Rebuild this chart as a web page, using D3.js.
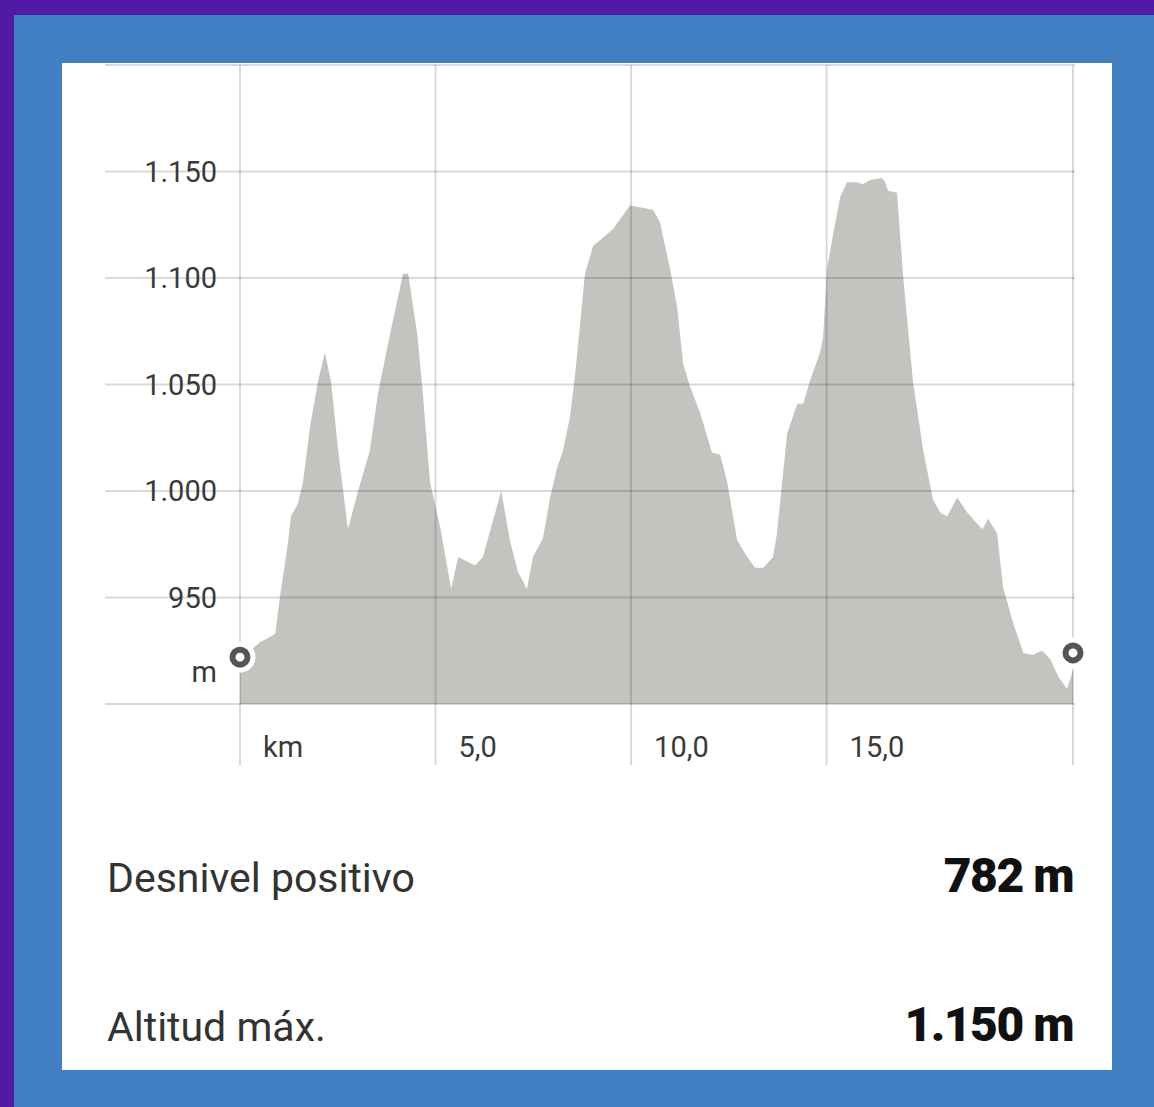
<!DOCTYPE html>
<html>
<head>
<meta charset="utf-8">
<script src="https://cdn.jsdelivr.net/npm/d3@7"></script>
<style>
  body { margin: 0; background: #417fc2; }
  svg { display: block; }
  text { font-family: Roboto, "Noto Sans", sans-serif; }
</style>
</head>
<body>
<script>
// distance along the route (km) and altitude (m)
var distKm = [0, 0.26, 0.51, 0.72, 0.90, 1.02, 1.23, 1.30, 1.48, 1.61, 1.79, 1.99, 2.17, 2.33, 2.51, 2.76,
  3.02, 3.32, 3.53, 3.84, 4.17, 4.30, 4.53, 4.65, 4.86, 5.12, 5.40, 5.58, 6.01, 6.21, 6.68, 6.91,
  7.11, 7.34, 7.49, 7.75, 7.93, 8.11, 8.26, 8.44, 8.57, 8.70, 8.82, 9.03, 9.54, 9.97, 10.56, 10.74,
  11.00, 11.18, 11.33, 11.51, 11.76, 12.07, 12.28, 12.46, 12.71, 12.97, 13.17, 13.38, 13.63, 13.73,
  13.99, 14.25, 14.40, 14.58, 14.83, 14.91, 15.01, 15.17, 15.35, 15.52, 15.78, 15.93, 16.11, 16.42,
  16.50, 16.57, 16.80, 16.96, 17.21, 17.47, 17.72, 17.90, 18.08, 18.34, 18.59, 18.98, 19.13, 19.36,
  19.51, 19.77, 20.03, 20.26, 20.51, 20.72, 20.92, 21.15, 21.30];
var altitude = [915, 925, 929, 931, 933, 950, 976, 988, 994, 1004, 1030, 1051, 1065, 1051, 1019, 982,
  1000, 1019, 1046, 1074, 1102, 1102, 1074, 1051, 1004, 983, 954, 969, 965, 969, 1000, 976,
  962, 954, 969, 978, 997, 1011, 1019, 1035, 1055, 1079, 1102, 1115, 1123, 1134, 1132, 1126,
  1104, 1086, 1060, 1049, 1037, 1018, 1017, 1004, 977, 969, 964, 964, 969, 980,
  1027, 1041, 1041, 1052, 1065, 1072, 1104, 1121, 1138, 1145, 1145, 1144, 1146, 1147,
  1145, 1141, 1140, 1100, 1051, 1019, 996, 990, 988, 997, 990, 982, 987, 980,
  955, 938, 924, 923, 925, 921, 913, 907, 916];

var yTicks = [950, 1000, 1050, 1100, 1150];
var xTicks = [0, 5, 10, 15];
var markers = [[0, 922], [21.3, 924]];   // start / end points
var stats = [["Desnivel positivo", "782 m"], ["Altitud máx.", "1.150 m"]];

var W = 1154, H = 1107;
var es = d3.formatLocale({decimal: ",", thousands: ".", grouping: [3], currency: ["", " €"]});
var fmtY = es.format(",d"), fmtX = es.format(".1f");

var svg = d3.select("body").append("svg")
    .attr("width", W)
    .attr("height", H);

// frame: purple edge, blue border, white card
svg.append("rect").attr("width", W).attr("height", H).attr("fill", "#5119a6");
svg.append("rect").attr("x", 14).attr("y", 15).attr("width", W - 14).attr("height", H - 15).attr("fill", "#417fc2");
svg.append("rect").attr("x", 62).attr("y", 63).attr("width", 1050).attr("height", 1007).attr("fill", "#fff");

var x = d3.scaleLinear().domain([0, d3.max(distKm)]).range([240, 1073]);
var y = d3.scaleLinear().domain([900, 1200]).range([704, 65]);

var pts = distKm.map(function(d, i) { return [d, altitude[i]]; });

var area = d3.area()
    .x(function(d) { return x(d[0]); })
    .y0(y(900))
    .y1(function(d) { return y(d[1]); });

svg.append("path")
    .datum(pts)
    .attr("d", area)
    .attr("fill", "#c5c3c0");

// grid on top of the fill so it shows through darker
var grid = svg.append("g")
    .attr("stroke", "#000")
    .attr("stroke-opacity", 0.15)
    .attr("stroke-width", 2);

grid.selectAll("line.h")
  .data(y.ticks(6))
  .enter().append("line")
    .attr("class", "h")
    .attr("x1", 105).attr("x2", 1075)
    .attr("y1", function(d) { return y(d); })
    .attr("y2", function(d) { return y(d); });

grid.selectAll("line.v")
  .data(xTicks.concat([d3.max(distKm)]))
  .enter().append("line")
    .attr("class", "v")
    .attr("x1", function(d) { return x(d); })
    .attr("x2", function(d) { return x(d); })
    .attr("y1", 65).attr("y2", 765);

// y labels
svg.selectAll("text.yl")
  .data(yTicks)
  .enter().append("text")
    .attr("class", "yl")
    .attr("x", 217)
    .attr("y", function(d) { return y(d); })
    .attr("dy", "0.36em")
    .attr("text-anchor", "end")
    .attr("font-size", 29)
    .attr("fill", "#3a3a3a")
    .text(function(d) { return fmtY(d); });

svg.append("text")
    .attr("x", 217).attr("y", y(900) - 22)
    .attr("text-anchor", "end")
    .attr("font-size", 29)
    .attr("fill", "#3a3a3a")
    .text("m");

// x labels
svg.selectAll("text.xl")
  .data(xTicks)
  .enter().append("text")
    .attr("class", "xl")
    .attr("x", function(d) { return x(d) + 23; })
    .attr("y", 757)
    .attr("font-size", 29)
    .attr("fill", "#3a3a3a")
    .text(function(d) { return d === 0 ? "km" : fmtX(d); });

// start / end markers
svg.selectAll("circle.mk")
  .data(markers)
  .enter().append("circle")
    .attr("class", "mk")
    .attr("cx", function(d) { return x(d[0]); })
    .attr("cy", function(d) { return y(d[1]); })
    .attr("r", 9)
    .attr("fill", "none")
    .attr("stroke", "#fff")
    .attr("stroke-width", 13);

svg.selectAll("circle.mk2")
  .data(markers)
  .enter().append("circle")
    .attr("class", "mk2")
    .attr("cx", function(d) { return x(d[0]); })
    .attr("cy", function(d) { return y(d[1]); })
    .attr("r", 7.5)
    .attr("fill", "#fff")
    .attr("stroke", "#555")
    .attr("stroke-width", 6);

// summary rows
var rows = svg.selectAll("g.row")
  .data(stats)
  .enter().append("g")
    .attr("class", "row")
    .attr("transform", function(d, i) { return "translate(0," + (892 + i * 149) + ")"; });

rows.append("text")
    .attr("x", 107)
    .attr("font-size", 41)
    .attr("fill", "#333")
    .text(function(d) { return d[0]; });

rows.append("text")
    .attr("x", 1073)
    .attr("text-anchor", "end")
    .attr("font-size", 48)
    .attr("font-weight", 900)
    .attr("letter-spacing", -1.5)
    .attr("fill", "#111")
    .text(function(d) { return d[1]; });
</script>
</body>
</html>
